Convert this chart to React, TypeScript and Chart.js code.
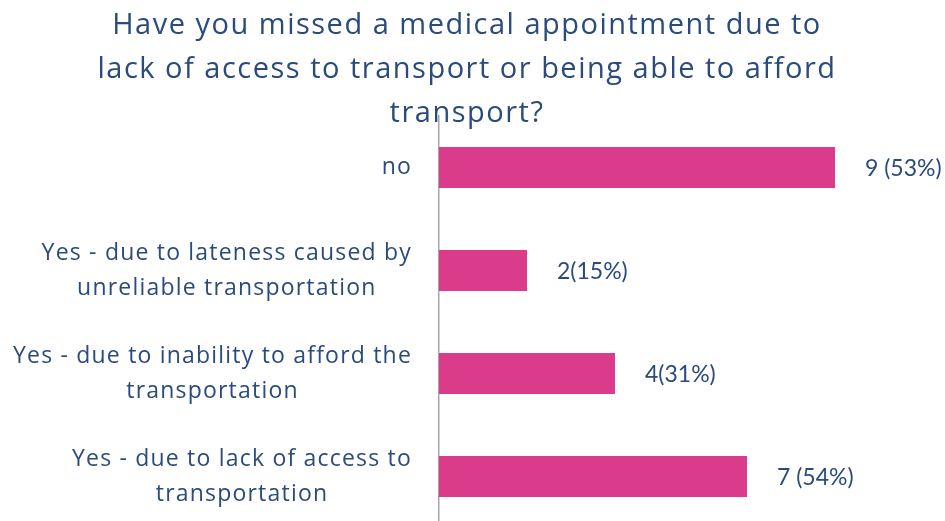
import React, { useEffect, useRef } from "react";
import { Chart, registerables } from "chart.js";

Chart.register(...registerables);

const titleLines = [
  "Have you missed a medical appointment due to",
  "lack of access to transport or being able to afford",
  "transport?",
];

const categories: string[][] = [
  ["no"],
  ["Yes - due to lateness caused by", "unreliable transportation"],
  ["Yes - due to inability to afford the", "transportation"],
  ["Yes - due to lack of access to", "transportation"],
];

const counts = [9, 2, 4, 7];
const valueLabels = ["9 (53%)", "2(15%)", "4(31%)", "7 (54%)"];

const NAVY = "#2A4B7C";
const PINK = "#DA3B8B";
const TEXT_FONT = '"Open Sans", "Noto Sans", sans-serif';
const VALUE_FONT = 'Lato, "Noto Sans", sans-serif';

const textPlugin = {
  id: "surveyText",
  afterDraw(chart: any) {
    const ctx: any = chart.ctx;
    const yScale = chart.scales.y;
    const meta = chart.getDatasetMeta(0);
    ctx.save();

    // Title, centred above the plot
    ctx.fillStyle = NAVY;
    ctx.font = `29px ${TEXT_FONT}`;
    ctx.letterSpacing = "1.5px";
    ctx.textAlign = "center";
    ctx.textBaseline = "middle";
    titleLines.forEach((line, i) => {
      ctx.fillText(line, 467, 26 + i * 44);
    });

    // Category labels: block right-aligned to the axis, lines centred inside
    ctx.font = `23px ${TEXT_FONT}`;
    ctx.letterSpacing = "1.2px";
    const rightEdge = chart.chartArea.left - 27;
    categories.forEach((lines, i) => {
      const cy = yScale.getPixelForValue(i);
      const widths = lines.map((l) => ctx.measureText(l).width);
      const blockW = Math.max(...widths);
      const centerX = rightEdge - blockW / 2;
      const lineH = 35;
      const startY = cy - ((lines.length - 1) * lineH) / 2;
      ctx.textAlign = "center";
      lines.forEach((l, j) => ctx.fillText(l, centerX, startY + j * lineH));
    });

    // Value labels at the end of each bar
    ctx.font = `23px ${VALUE_FONT}`;
    ctx.letterSpacing = "0px";
    ctx.textAlign = "left";
    meta.data.forEach((bar: any, i: number) => {
      ctx.fillText(valueLabels[i], bar.x + 30, bar.y + 1);
    });

    ctx.restore();
  },
};

export default function App() {
  const canvasRef = useRef<HTMLCanvasElement>(null);

  useEffect(() => {
    document.body.style.margin = "0";
    const chart = new Chart(canvasRef.current!, {
      type: "bar",
      data: {
        labels: categories.map((c) => c.join(" ")),
        datasets: [
          {
            data: counts,
            backgroundColor: PINK,
            borderWidth: 0,
            barPercentage: 0.4,
            categoryPercentage: 1,
          },
        ],
      },
      options: {
        indexAxis: "y",
        animation: false,
        responsive: false,
        layout: { padding: { top: 116, bottom: 2, right: 22, left: 0 } },
        plugins: {
          legend: { display: false },
          title: { display: false },
          tooltip: { enabled: false },
        },
        scales: {
          x: {
            min: 0,
            max: 11,
            display: false,
          },
          y: {
            grid: { display: false, drawTicks: false },
            border: { display: true, color: "#A6A6A6", width: 1.5 },
            ticks: { display: false },
            afterFit(scale: any) {
              scale.width = 439;
            },
          },
        },
      },
      plugins: [textPlugin],
    });
    return () => chart.destroy();
  }, []);

  return (
    <div style={{ position: "absolute", left: 0, top: 0, width: 945, height: 530 }}>
      <canvas ref={canvasRef} width={945} height={530} />
    </div>
  );
}
